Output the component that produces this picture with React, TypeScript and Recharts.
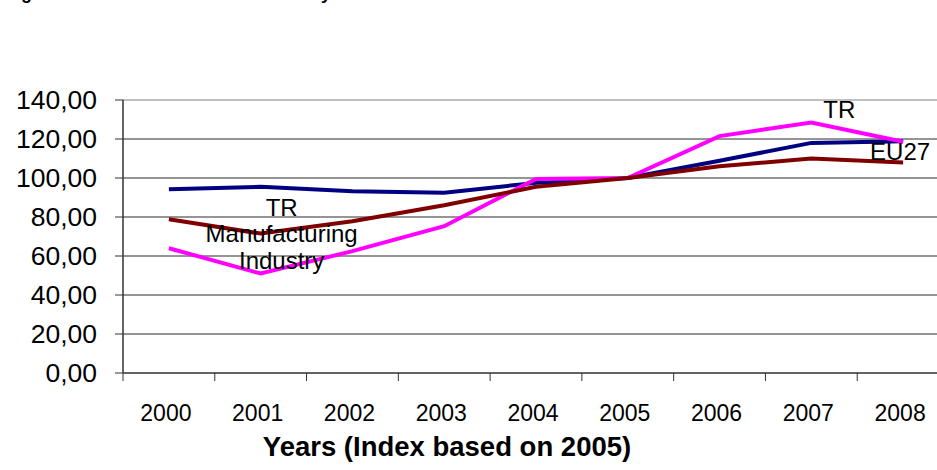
import { LineChart, Line, XAxis, YAxis, CartesianGrid, ReferenceLine, ReferenceDot } from 'recharts';

const years = ['2000', '2001', '2002', '2003', '2004', '2005', '2006', '2007', '2008'];
const eu27 = [94.2, 95.5, 93.2, 92.5, 97.5, 100, 108.8, 118, 118.8];
const trTotal = [64, 51, 62.5, 75.3, 99.5, 100, 121.5, 128.5, 118.6];
const trManufacturing = [78.8, 71.5, 77.8, 86, 95.5, 100, 106, 110, 108];
const yTicks = [0, 20, 40, 60, 80, 100, 120, 140];

const data = years.map((year, i) => ({
  year,
  eu27: eu27[i],
  tr: trTotal[i],
  trManufacturing: trManufacturing[i],
}));

const FONT = '"Liberation Sans", Arial, sans-serif';
const CHART_W = 960;
const CHART_H = 470;
const MARGIN = { top: 100, right: 11, left: 0, bottom: 0 };
const Y_AXIS_W = 123;
const BAND = (CHART_W - MARGIN.left - MARGIN.right - Y_AXIS_W) / years.length;

const fmt = (v: number) => v.toFixed(2).replace('.', ',');

function YearTick(props: any) {
  const { x, y, payload, index } = props;
  const axisY = y - 8;
  return (
    <g>
      <line x1={x - BAND / 2} y1={axisY} x2={x - BAND / 2} y2={axisY + 8} stroke="#333" />
      {index === years.length - 1 && (
        <line x1={x + BAND / 2} y1={axisY} x2={x + BAND / 2} y2={axisY + 8} stroke="#333" />
      )}
      <text x={x - 3} y={y + 40} textAnchor="middle" fontSize={23} fill="#000" fontFamily={FONT}>
        {payload.value}
      </text>
    </g>
  );
}

// text note placed relative to a data point
const note = (lines: string[], dx: number, dys: number[]) => (props: any) => {
  const { viewBox } = props;
  const cx = viewBox.x + viewBox.width / 2;
  const cy = viewBox.y + viewBox.height / 2;
  return (
    <g>
      {lines.map((t, i) => (
        <text key={t} x={cx + dx} y={cy + dys[i]} dy="0.35em" textAnchor="middle" fontSize={24} fill="#000" fontFamily={FONT}>
          {t}
        </text>
      ))}
    </g>
  );
};

export default function App() {
  return (
    <div style={{ position: 'absolute', left: 0, top: 0, width: 937, height: 470, overflow: 'hidden', background: '#fff' }}>
      <div
        style={{
          position: 'absolute', left: 5, top: -16, fontFamily: FONT, fontWeight: 'bold',
          fontSize: 18, lineHeight: '18px', whiteSpace: 'nowrap',
        }}
      >
        Figure 4: Production Index of Industry
      </div>
      <LineChart width={CHART_W} height={CHART_H} data={data} margin={MARGIN}>
        <CartesianGrid vertical={false} stroke="#2a2a2a" />
        <XAxis
          dataKey="year"
          scale="point"
          padding={{ left: BAND / 2, right: BAND / 2 }}
          height={CHART_H - 373}
          axisLine={{ stroke: '#333' }}
          tickLine={false}
          tickSize={8}
          tickMargin={0}
          interval={0}
          tick={<YearTick />}
          label={{
            content: () => (
              <text x={447} y={456} textAnchor="middle" fontSize={27.5} fontWeight="bold" fill="#000" fontFamily={FONT}>
                Years (Index based on 2005)
              </text>
            ),
          }}
        />
        <YAxis
          width={Y_AXIS_W}
          domain={[0, 140]}
          ticks={yTicks}
          interval={0}
          tickFormatter={fmt}
          axisLine={{ stroke: '#333', strokeWidth: 1.5 }}
          tickLine={{ stroke: '#333' }}
          tickSize={8}
          tickMargin={18}
          tick={{ fill: '#000', fontSize: 26.5, fontFamily: FONT }}
        />
        <ReferenceLine y={140} stroke="#c0c0c0" strokeWidth={2} />
        <Line dataKey="eu27" name="EU27" stroke="#000080" strokeWidth={4} dot={false} isAnimationActive={false} />
        <Line dataKey="tr" name="TR" stroke="#ff00ff" strokeWidth={4} dot={false} isAnimationActive={false} />
        <Line dataKey="trManufacturing" name="TR Manufacturing Industry" stroke="#800000" strokeWidth={4} dot={false} isAnimationActive={false} />
        <ReferenceDot x="2007" y={trTotal[7]} r={1} fillOpacity={0} strokeOpacity={0} label={{ content: note(['TR'], 28, [-13]) }} />
        <ReferenceDot x="2008" y={eu27[8]} r={1} fillOpacity={0} strokeOpacity={0} label={{ content: note(['EU27'], -3, [10]) }} />
        <ReferenceDot
          x="2001"
          y={trManufacturing[1]}
          r={1}
          fillOpacity={0}
          strokeOpacity={0}
          label={{ content: note(['TR', 'Manufacturing', 'Industry'], 21, [-26, 0, 27]) }}
        />
      </LineChart>
    </div>
  );
}
